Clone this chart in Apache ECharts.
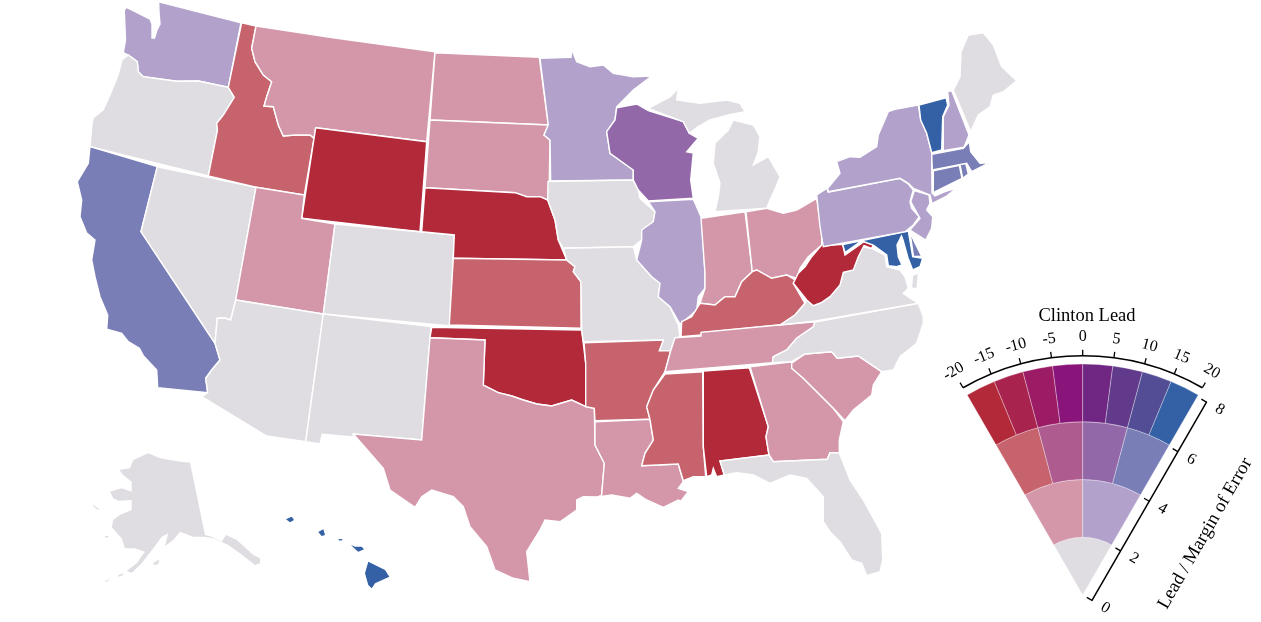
<!DOCTYPE html>
<html>
<head>
<meta charset="utf-8">
<script src="https://cdn.jsdelivr.net/npm/echarts@6/dist/echarts.min.js"></script>
<style>html,body{margin:0;padding:0;background:#fff}</style>
</head>
<body>
<div id="main" style="width:1261px;height:622px;"></div>
<script type="text/javascript">
// poll values
var stateNames = ['Washington','Oregon','California','Nevada','Idaho','Montana','Wyoming','Utah','Arizona','Colorado','New Mexico',
  'North Dakota','South Dakota','Nebraska','Kansas','Oklahoma','Texas','Minnesota','Iowa','Missouri','Arkansas','Louisiana',
  'Wisconsin','Illinois','Michigan','Indiana','Ohio','Kentucky','Tennessee','Mississippi','Alabama','Georgia','Florida',
  'South Carolina','North Carolina','Virginia','West Virginia','Maryland','Delaware','Pennsylvania','New Jersey','New York',
  'Connecticut','Rhode Island','Massachusetts','Vermont','New Hampshire','Maine','Alaska','Hawaii'];
var stateLeads = [10,0,15,0,-15,-10,-17.5,-10,0,0,0,
  -10,-10,-17.5,-15,-17.5,-10,10,0,0,-15,-10,
  5,10,0,-10,-10,-15,-10,-15,-17.5,-10,0,
  -10,0,0,-17.5,17.5,15,10,10,10,
  15,15,15,17.5,10,0,0,17.5];
var stateRatios = [3,1,5,1,5,3,7,3,1,1,1,
  3,3,7,5,7,3,3,1,1,5,3,
  5,3,1,3,3,5,3,5,7,3,1,
  3,1,1,7,7,5,3,3,3,
  5,5,5,7,3,1,1,7];

// legend bins, inner ring to outer ring
var ratioEdges = [0,2,4,6,8];
var ringColors = [
  ['#dfdde1'],
  ['#d497a9','#b1a1cb'],
  ['#c7636c','#ae5b90','#9268a9','#7a7eb7'],
  ['#b22a3a','#a8244e','#9b1b64','#89147a','#702683','#613a8c','#524d94','#3460a6']
];
var leadTicks = [-20,-15,-10,-5,0,5,10,15,20];
var ratioTicks = [0,2,4,6,8];
var leadMin = -20, leadMax = 20;

// state outlines traced in page pixels
var outlines = {
  'Washington':['158.7,1.7 241,22.7 228.3,87.3 198.3,81 176.7,81.3 160,79 143.3,76.7 138.3,71.7 137.3,61.7 128.3,55 123.3,52.7 125.5,40 124.3,10 126.7,7.3 140,14 150,19 152,24 152,38 154.5,38 157,30 160,24 159,12'],
  'Oregon':['128.3,55 137.3,61.7 138.3,71.7 143.3,76.7 160,79 176.7,81.3 198.3,81 228.3,87.3 234.3,97.3 223.3,115 216.7,123.3 217.5,130 208.3,176 90,146.7 91.7,126.7 93,118 103,110 110,95 118,75 122,60'],
  'California':['90,146.7 157.3,166.7 141,231.7 215,343.3 220,360 211.7,370 205.7,378.3 207.7,392.7 157.7,387.7 156.7,370 143.3,355.7 139.3,348.3 128.3,341.7 121.7,333.3 106.7,329.3 107.7,315 100,296.7 95,276.7 91.7,260 95,240 86.7,233 80,216.7 81.7,200 77.3,181.7 88.3,163.3'],
  'Nevada':['157.3,166.7 256,187.3 235.7,300 230.7,320 225.7,318.3 217.3,318.3 215,343.3 141,231.7'],
  'Idaho':['241.7,22.7 256,26 251.7,48.3 255,61.7 263.3,75 271.7,81.7 266.7,96.7 264,106 273.3,106.7 278.3,125 283.3,136 295,135 310,135 314,138.3 304.3,195 256,187.3 208.3,176 217.5,130 216.7,123.3 223.3,115 234.3,97.3 228.3,87.3'],
  'Montana':['256,26 335,38 435,51.7 426.7,141.7 315.7,127.7 314,138.3 310,135 295,135 283.3,136 278.3,125 273.3,106.7 264,106 266.7,96.7 271.7,81.7 263.3,75 255,61.7 251.7,48.3'],
  'Wyoming':['315.7,127.7 426.7,141.7 420,231.7 301.7,218.3'],
  'Utah':['256,187.3 304.3,195 301.7,218.3 335,224 323.3,314 235.7,300'],
  'Arizona':['235.7,300 323.3,314 305.7,441.7 266.7,436 201.7,396.7 207.7,392.7 205.7,378.3 211.7,370 220,360 215,343.3 217.3,318.3 225.7,318.3 230.7,320'],
  'Colorado':['335,224 454.3,235 450,326 323.3,314'],
  'New Mexico':['323.3,314 431,326.5 421.7,440 353.3,434 353,437 322.3,434.3 320,444 305.7,441.7'],
  'North Dakota':['435,52.7 539.3,57.3 548.3,125 430,120'],
  'South Dakota':['430,120 548.3,125 544,135 550,140 549.3,180 547.7,200 540,196.7 526.7,196.7 515,192.7 425,187.7'],
  'Nebraska':['425,187.7 515,192.7 526.7,196.7 540,196.7 547.7,200 555,220 558.3,240 566.7,260 453.3,258.3 454.3,235 421.7,231.7'],
  'Kansas':['453.3,258.3 566.7,260 575,266.7 573.3,271.7 581,281.7 581,328.3 449.3,325'],
  'Oklahoma':['431.7,327.3 581.7,330 585.7,363.3 585.7,406.7 571.7,400 551.7,406 536.7,404 523.3,400 511.7,396 498.3,392.7 483.3,385 485,340 430,337.7'],
  'Texas':['430,337.7 485,340 483.3,385 498.3,392.7 511.7,396 523.3,400 536.7,404 551.7,406 571.7,400 585.7,406.7 594.3,408.3 595,445 604.3,463.3 601.7,495 598,497 583.3,496.7 576.7,500 576.7,510 560,521.7 545,520 540,530 526.7,551.7 530,581.7 513.3,578.3 495,570 486.7,546.7 470,526.7 463.3,506.7 453.3,496.7 431.7,490 421.7,496.7 415,507.3 390,490 383.3,468.3 353.3,434 421.7,440'],
  'Minnesota':['540,58.3 571,57.3 571.7,49.3 576.7,61.7 590,66.7 603.3,65 613.3,73.3 633.3,76.7 651.7,76 633.3,90 616.7,106.7 615,120 606.7,131.7 610,153.3 633.3,170 633.3,180 550.7,181 550,140 544,135 548.3,125'],
  'Iowa':['548,181.5 633.3,180 638.3,190 640,198.3 655,211.7 653.3,221.7 641.7,230 641.7,240 633.3,246.7 563.3,248.3 558.3,240 555,220 547.7,200'],
  'Missouri':['563.3,248.3 633.3,246.7 636.7,260 651.7,276.7 660,283.3 658.3,296.7 670,306.7 678.3,325 680,336.7 675,338.3 670.7,350.7 659.3,350.7 663.3,340 583.3,341.7 581.7,330 581,281.7 573.3,271.7 575,266.7 566.7,260'],
  'Arkansas':['584,342.7 663.3,340 659.3,350.7 670.7,350.7 665,371.7 653.3,390 646.7,406.7 650,419.3 595,420.7 594.3,408.3 585.7,406.7 585.7,363.3'],
  'Louisiana':['595,421.7 650,419.3 651.7,430 653.3,440 645,453.3 641.7,465.7 678.3,464 683.3,481.7 678.3,488.3 688.3,491.7 681.7,500 694,507.3 678.3,500 663.3,507.3 646.7,500 636.7,493.3 630,498.3 611.7,495 598,497 601.7,495 604.3,463.3 595,445'],
  'Wisconsin':['616.7,107.7 636.7,104 648.3,110.7 683.3,121.7 689.3,133.3 698.3,138.3 686.7,151.7 693.3,153 690.7,180 693.3,198.3 648.3,201 638.3,190 633.3,180 633.3,170 610,153.3 606.7,131.7 615,120'],
  'Illinois':['648.3,201.7 693.3,199.3 701.7,218.3 705,273.3 705,288.3 698.3,296.7 696.7,310 690,316 680,324 670,306.7 658.3,296.7 660,283.3 651.7,276.7 636.7,260 641.7,240 641.7,230 653.3,221.7 655,211.7'],
  'Michigan':['715,211.7 718.3,196.7 720,183.3 713.3,163.3 715,143.3 728.3,130 733.3,120 753.3,125 760,136.7 758,153 753.3,165 768.3,156.7 780,176.7 776,187 770,200 766.7,208.3',
    '648.3,108.3 670,97 678.3,88.3 676.7,100 700,103.3 726.7,100 740,103.3 745,111.7 728.3,115 710,120 698.3,126.7 689.3,133.3 683.3,121.7'],
  'Indiana':['701,218.3 745,211.7 752.3,271.7 741.7,281.7 735,296.7 725,296.7 715,305 700,303.3 705,288.3 705,273.3'],
  'Ohio':['746,211.7 766.7,208.3 783.3,213.3 796.7,210 816.7,198.3 821.7,231.7 821.7,245 808.3,256.7 800,268.3 796.7,278.3 786.7,275 771.7,278.3 756.7,270 752.3,271.7'],
  'Kentucky':['681.7,321.7 691.7,316.7 700,303.3 715,305 725,296.7 735,296.7 741.7,281.7 752.3,271.7 756.7,270 771.7,278.3 786.7,275 795,280 793.3,283.3 805,303.3 795,315 780,325 701.7,332.7 701,335 681,336.7'],
  'Tennessee':['675,337.7 701,336 701,332.3 778.3,325 815,321.7 813.3,326.7 796.7,338.3 786.7,350 773.3,356.7 772.3,362.7 665,371.7 670.7,350.7'],
  'Mississippi':['665,374 702.7,371.7 703.3,446.7 705.7,476.7 693.3,476.7 683.3,480.7 678.3,464 641.7,465.7 645,453.3 653.3,440 651.7,430 650,419.3 646.7,406.7 653.3,390'],
  'Alabama':['703.3,371 749.3,367.7 768.3,426.7 766,436.7 769,455 720,461 724.3,475 716.7,476.7 713.3,468.3 711.7,475 706.7,476.7 703.3,446.7'],
  'Georgia':['750,366.7 791.7,361.7 791.7,368.3 803.3,378.3 823.3,398.3 833.3,408.3 843.3,421.7 839.3,440 839.3,452.7 830,452.7 827.3,459.3 773.3,461.7 769,455 766,436.7 768.3,426.7'],
  'Florida':['720,461 769,455 773.3,461.7 827.3,459.3 830,452.7 839.3,452.7 850,480 863.3,500 881.7,533.3 882.7,560 880,571.7 866.7,575.7 861.7,563.3 851.7,560 840,541.7 830,531.7 823.3,521.7 823.3,496.7 806.7,478.3 790,475 770,483.3 753.3,475 736.7,472.7 724.3,475'],
  'South Carolina':['791.7,363.3 805,354 831.7,351.7 837.3,358.3 858.3,356 881.7,371.7 873.3,385 871.7,395 853.3,410 845,420.7 833.3,408.3 823.3,398.3 803.3,378.3 791.7,368.3'],
  'North Carolina':['772.3,362.7 773.3,356.7 786.7,350 796.7,338.3 813.3,326.7 815,322 918.3,303.3 923.3,316.7 923.3,323.3 916.7,343.3 900,356.7 893.3,370 881.7,371.7 858.3,356 837.3,358.3 831.7,351.7 805,354 791.7,361.7'],
  'Virginia':['780,325 795,315 805,303.3 806.7,300 813.3,305.7 821.7,302.3 830,296.7 840,285 843.3,272.3 853.3,270 858.3,256.7 861.7,246.7 871.7,248.3 885,255 886.7,266.7 900,270 905,276.7 908.3,288.3 903.3,293.3 918.3,303.3 816,321',
    '912.5,275 918.5,273 917,289 911.5,288'],
  'West Virginia':['821.7,231.7 824.3,245.7 842.7,244.3 845,255 861.7,243.3 863.3,241.7 873.3,245 871.7,248.3 864,245.7 858.3,256.7 853.3,270 843.3,272.3 840,285 830,296.7 821.7,302.3 813.3,305.7 806.7,300 793.3,283.3 798.3,273.3 805,266.7 811.7,256.7 821.7,245'],
  'Maryland':['842.7,244.5 908.3,231 912.7,256.7 922.7,258.3 920,266.7 912.7,270 908,258 903,240 901.5,236 897,245 898.3,256.7 902,265 896.7,266.7 888.3,265.7 886.7,255 873.3,245 864,241.7 860,242 845,252.5'],
  'Delaware':['910,232 915,243 921.7,256.5 913.5,256.5'],
  'Pennsylvania':['816.7,195 826.7,188.3 828.3,192.3 900,178.3 908.3,184 913.3,190 910,201.7 911.7,208.3 919.3,216.7 913.3,225 905,231.7 823.3,246.7 820,226.7'],
  'New Jersey':['914.3,190.7 929,195 930,203.3 926.7,210 932.7,216.7 931.7,228.3 925.7,240 910,230 920,218.3 910.7,201.7'],
  'New York':['918.3,105 920.7,120 926.7,133.3 931.7,152.7 932,193 935,196 945,191.5 956.7,188 946.7,196 932,203.5 930,195 913.3,188.3 908.3,183.3 900,178.3 828.3,191.7 827.7,188.3 840,173.3 836.7,161.7 850,156.7 860,157.3 876.7,146.7 878.3,135 888.3,111.7 895,109.3'],
  'Connecticut':['933.3,170.7 959.3,165.3 962,178.3 941.7,188.3 933.3,192.7'],
  'Rhode Island':['960,164.3 965.7,163.3 968.3,174 962.7,178.3'],
  'Massachusetts':['931.7,154.3 963.3,148.3 969.3,141.7 970.7,151.7 980,163.3 989.3,162.7 981.7,166.7 971.7,171.7 966.7,163.3 932.3,170'],
  'Vermont':['919,105 946,97.7 947.7,105 942.7,116.7 941.7,150 931.7,152.7 926.7,133.3 920.7,120'],
  'New Hampshire':['947.7,91 951.7,90.7 969,135 964,147.3 943.3,150.7 943.3,116.7 949,105'],
  'Maine':['953.3,90 960,76.7 961,51.7 968.3,35 983.3,32.7 993.3,45 1001.7,66.7 1016.7,80.7 1003.3,91.7 993.3,95 990,106.7 978.3,115 970.7,131.7'],
  'Alaska':['148.3,453.3 160,458.3 180,461.7 190,462.7 205,535 211.7,536.7 221.7,541.7 226,535 236.7,540 253.3,555 260,558.3 260,563.3 255,565 240,553.3 228.3,545 213.3,538.3 205,536.7 193.3,536.7 180,531.7 173.3,540 165,546 168.3,533.3 161.7,536.7 153.3,548.3 141.7,563.3 131.7,572.7 126.7,571 136.7,563.3 145,551.7 135,548.3 125,548.3 121.7,538.3 111.7,527.3 113.3,520 120,515 131.7,510 131.7,500 118.3,500.7 113.3,498.3 110,491.7 121.7,488.3 131.7,491.7 131.7,481.7 123.3,475 119.3,470 130,468.3 133.3,460',
    '153.3,563.3 159.3,559.3 158.3,564 154,565.3','118.3,575 123.3,573.3 123.3,575 118.3,576.7','105,581 110.7,579 110.7,579.7 105.7,582.3','105,536 108.3,536 108.3,537.7 105,537.3','93.3,505 99.3,509.3 98,510 93,506'],
  'Hawaii':['368.3,561.7 385,570 389.3,576.7 375,583.3 371.7,588.3 368.3,585 365,573.3',
    '351,545 355,546.7 361.7,546.7 364,549.3 358.3,551.7 355,549','318.3,532 323.3,529.3 325,535 321.7,536','286,519.3 291.7,516.7 294,520 290,522.3','338.3,539.3 342,539 342.5,540.3 339,540.5']
};

function toGeoJson(shapes) {
  var features = [];
  for (var name in shapes) {
    var polys = shapes[name].map(function (s) {
      return [s.split(' ').map(function (p) {
        var xy = p.split(',');
        return [+xy[0], -xy[1]];
      })];
    });
    features.push({
      type: 'Feature',
      properties: { name: name },
      geometry: { type: 'MultiPolygon', coordinates: polys }
    });
  }
  return { type: 'FeatureCollection', features: features };
}

// colour of a lead / ratio pair: ring by ratio, then slice within the ring
function binColor(lead, ratio) {
  var ring = Math.min(Math.floor(ratio / 2), ringColors.length - 1);
  var row = ringColors[ring];
  var k = Math.floor((lead - leadMin) / (leadMax - leadMin) * row.length);
  return row[Math.max(0, Math.min(k, row.length - 1))];
}

var mapData = stateNames.map(function (n, i) {
  var style = { areaColor: binColor(stateLeads[i], stateRatios[i]) };
  // the islands would vanish under a white edge
  if (n === 'Alaska' || n === 'Hawaii') style.borderWidth = 0;
  return { name: n, value: stateLeads[i], itemStyle: style };
});

var fanCells = [];
ringColors.forEach(function (row, ring) {
  row.forEach(function (c, k) {
    var w = (leadMax - leadMin) / row.length;
    fanCells.push([leadMin + k * w, leadMin + (k + 1) * w, ratioEdges[ring], ratioEdges[ring + 1], c]);
  });
});

echarts.registerMap('states', toGeoJson(outlines));

var myChart = echarts.init(document.getElementById('main'));
var serif = '"Liberation Serif", serif';
var option = {
  backgroundColor: '#fff',
  animation: false,
  title: {
    text: 'Clinton Lead', left: 1082, top: 302, textAlign: 'center',
    textStyle: { fontFamily: serif, fontSize: 18.5, fontWeight: 'normal', color: '#000' }
  },
  polar: [
    { center: [1082.7, 595], radius: 239.3 },   // lead axis arc
    { center: [1082.7, 595], radius: 231 },     // fan
    { center: [1092, 600.4], radius: 229 }      // ratio axis, set off from the fan
  ],
  angleAxis: [
    {
      polarIndex: 0, type: 'value', min: leadMin, max: leadMax, interval: 5, startAngle: 120, endAngle: 60,
      axisLine: { lineStyle: { color: '#000', width: 1.5 } },
      axisTick: { show: true, length: 6, lineStyle: { color: '#000', width: 1.3 } },
      axisLabel: { show: false }, splitLine: { show: false }
    },
    { polarIndex: 1, type: 'value', min: leadMin, max: leadMax, startAngle: 120, endAngle: 60, show: false },
    { polarIndex: 2, type: 'value', min: 0, max: 1, startAngle: 60, endAngle: 0, show: false }
  ],
  radiusAxis: [
    { polarIndex: 0, type: 'value', min: 0, max: 8, show: false },
    { polarIndex: 1, type: 'value', min: 0, max: 8, show: false },
    {
      polarIndex: 2, type: 'value', min: 0, max: 8, interval: 2,
      axisLine: { lineStyle: { color: '#000', width: 1.5 } },
      axisTick: { show: true, length: 6, lineStyle: { color: '#000', width: 1.3 } },
      axisLabel: { show: false }, splitLine: { show: false }, splitArea: { show: false },
      name: 'Lead / Margin of Error', nameLocation: 'middle', nameGap: 55,
      nameTextStyle: { fontFamily: serif, fontSize: 18.7, color: '#000' }
    }
  ],
  series: [
    {
      type: 'map', map: 'states', left: 0, top: 0, width: 1261, height: 622,
      aspectScale: 1, boundingCoords: [[0, 0], [1261, -622]], roam: false, silent: true,
      label: { show: false }, emphasis: { disabled: true },
      itemStyle: { borderColor: '#fff', borderWidth: 1.4 },
      data: mapData
    },
    {
      type: 'custom', coordinateSystem: 'polar', polarIndex: 1, silent: true, clip: false,
      data: fanCells,
      renderItem: function (params, api) {
        var cell = fanCells[params.dataIndex];
        var cs = params.coordSys;
        var a = api.coord([cell[3], cell[0]]), b = api.coord([cell[3], cell[1]]), c = api.coord([cell[2], cell[0]]);
        return {
          type: 'sector',
          shape: {
            cx: cs.cx, cy: cs.cy,
            r: Math.hypot(a[0] - cs.cx, a[1] - cs.cy),
            r0: Math.hypot(c[0] - cs.cx, c[1] - cs.cy),
            startAngle: Math.atan2(a[1] - cs.cy, a[0] - cs.cx),
            endAngle: Math.atan2(b[1] - cs.cy, b[0] - cs.cx),
            clockwise: true
          },
          style: { fill: cell[4], stroke: 'rgba(255,255,255,0.45)', lineWidth: 0.7 }
        };
      }
    },
    {
      type: 'custom', coordinateSystem: 'polar', polarIndex: 0, silent: true, clip: false,
      data: leadTicks,
      renderItem: function (params, api) {
        var v = leadTicks[params.dataIndex];
        var p = api.coord([8.63, v]);
        return {
          type: 'text', x: p[0], y: p[1], rotation: -v / 20 * Math.PI / 6,
          style: { text: String(v), fontFamily: serif, fontSize: 16, fill: '#000', align: 'center', verticalAlign: 'middle' }
        };
      }
    },
    {
      type: 'custom', coordinateSystem: 'polar', polarIndex: 2, silent: true, clip: false,
      data: ratioTicks,
      renderItem: function (params, api) {
        var v = ratioTicks[params.dataIndex];
        var p = api.coord([v, 0]);
        // pushed out square to the axis, text reads along the tick
        return {
          type: 'text', x: p[0] + 13.4, y: p[1] + 7.6, rotation: -Math.PI / 6,
          style: { text: String(v), fontFamily: serif, fontSize: 16, fill: '#000', align: 'center', verticalAlign: 'middle' }
        };
      }
    }
  ]
};
myChart.setOption(option);
</script>
</body>
</html>
